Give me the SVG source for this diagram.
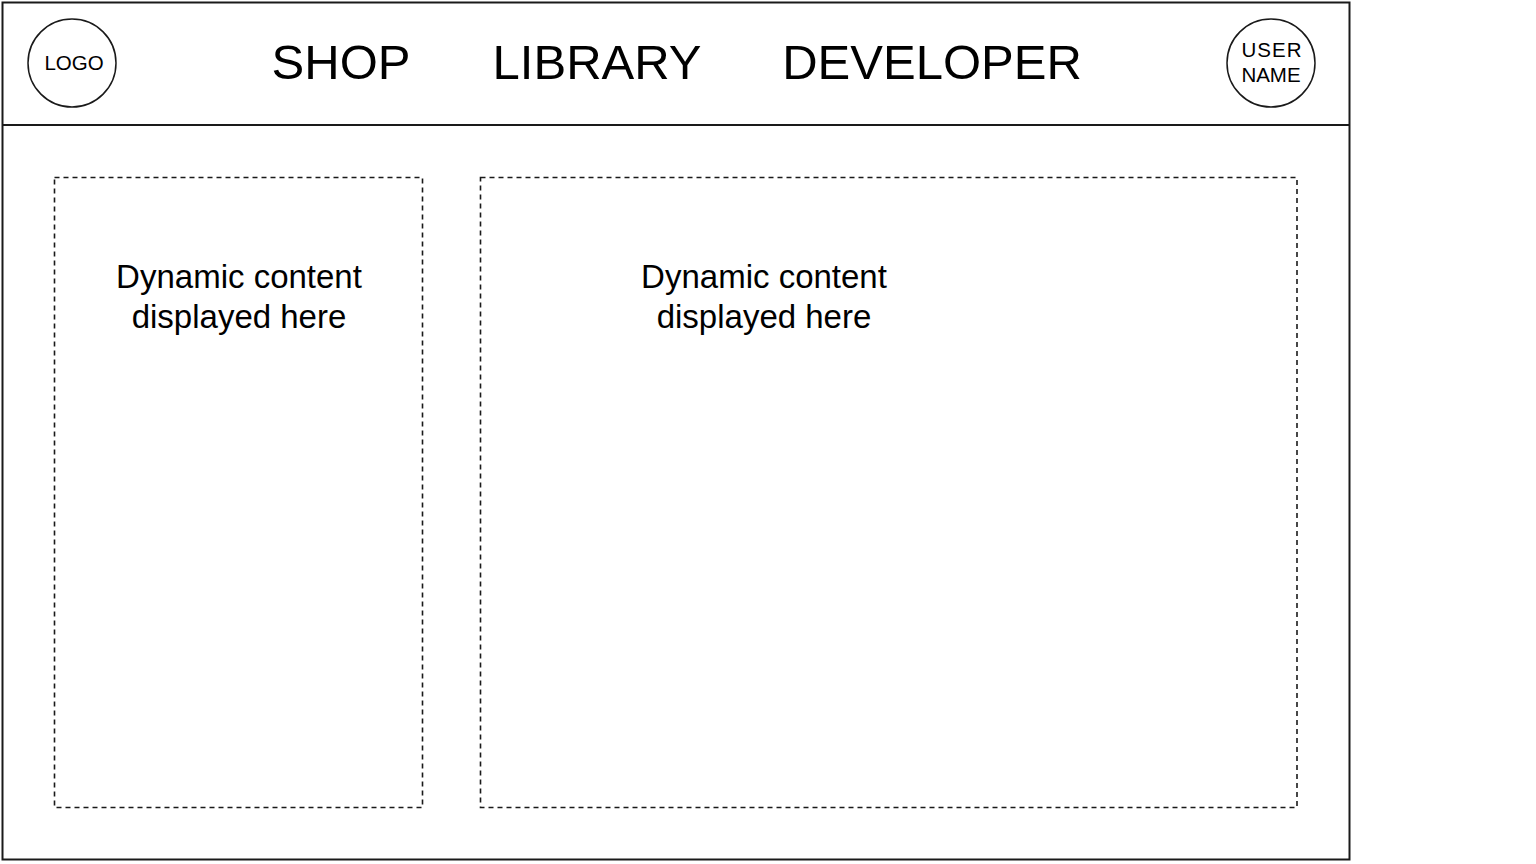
<svg xmlns="http://www.w3.org/2000/svg" width="1536" height="864" viewBox="0 0 1536 864">
<style>
.frame{fill:#ffffff;stroke:#1a1a1a;stroke-width:2}
.circ{fill:#ffffff;stroke:#1a1a1a;stroke-width:1.5}
.dash{fill:none;stroke:#1a1a1a;stroke-width:1.6;stroke-dasharray:5 4}
text{font-family:"Liberation Sans",Arial,sans-serif;fill:#000000;text-anchor:middle}
.nav{font-size:49px}
.small{font-size:20.5px}
.body{font-size:33px}
</style>
<rect width="1536" height="864" fill="#ffffff"/>
<g id="page">
<rect class="frame" x="2.5" y="2.5" width="1347" height="857"/>
<line x1="2.5" y1="125" x2="1349.5" y2="125" stroke="#1a1a1a" stroke-width="2"/>
</g>
<g id="logo">
<circle class="circ" cx="72" cy="63" r="44"/>
<text class="small" x="74" y="70">LOGO</text>
</g>
<g id="nav-shop"><text class="nav" x="341" y="79">SHOP</text></g>
<g id="nav-library"><text class="nav" x="597" y="79">LIBRARY</text></g>
<g id="nav-developer"><text class="nav" x="932" y="79">DEVELOPER</text></g>
<g id="user">
<circle class="circ" cx="1271" cy="63" r="44"/>
<text class="small" x="1272" y="57" letter-spacing="1">USER</text>
<text class="small" x="1271" y="82">NAME</text>
</g>
<g id="left-panel">
<rect class="dash" x="54.5" y="177.5" width="368" height="630"/>
<text class="body" x="239" y="288">Dynamic content</text>
<text class="body" x="239" y="328">displayed here</text>
</g>
<g id="main-panel">
<rect class="dash" x="480.5" y="177.5" width="816.5" height="630"/>
<text class="body" x="764" y="288">Dynamic content</text>
<text class="body" x="764" y="328">displayed here</text>
</g>
<g id="connectors"></g>
</svg>
